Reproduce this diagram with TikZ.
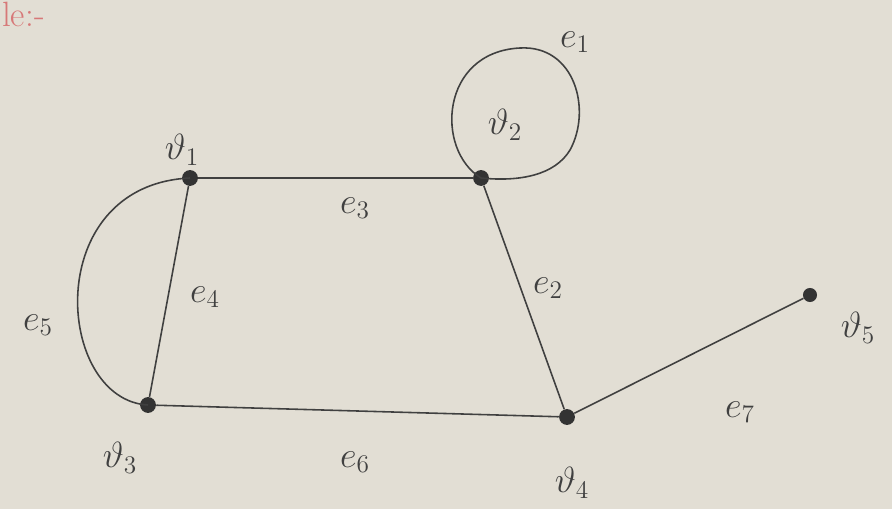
\documentclass[tikz,border=0pt]{standalone}
\usepackage{amsmath}
\begin{document}
\begin{tikzpicture}[x=0.02cm,y=-0.02cm,
  vertex/.style={circle,fill=black!80,inner sep=0pt,minimum size=9pt},
  edge/.style={draw=black!75,line width=0.9pt},
  lbl/.style={font=\fontsize{22}{24}\selectfont,text=black!75}]
\fill[fill={rgb,255:red,226;green,222;blue,212}] (0,0) rectangle (892,509);
\useasboundingbox (0,0) rectangle (892,509);
\node[anchor=north west,text={rgb,255:red,215;green,120;blue,120},font=\fontsize{20}{22}\selectfont] (title) at (-4,-4) {le:-};
\node[vertex] (v1) at (190,178) {};
\node[vertex] (v2) at (481,178) {};
\node[vertex] (v3) at (148,405) {};
\node[vertex] (v4) at (567,417) {};
\node[vertex,minimum size=8pt] (v5) at (810,295) {};
\draw[edge] (v1) -- (v2);
\draw[edge] (v1) -- (v3);
\draw[edge] (v3) -- (v4);
\draw[edge] (v2) -- (v4);
\draw[edge] (v4) -- (v5);
\draw[edge] (v1.center) .. controls (40,185) and (55,400) .. (v3.center);
\draw[edge] (v2.center) .. controls (435,150) and (440,52) .. (520,48)
  .. controls (575,45) and (592,110) .. (570,150)
  .. controls (555,175) and (520,182) .. (v2.center);
\node[lbl] (l1) at (182,150) {$\vartheta_1$};
\node[lbl] (l2) at (505,125) {$\vartheta_2$};
\node[lbl] (l3) at (120,458) {$\vartheta_3$};
\node[lbl] (l4) at (572,483) {$\vartheta_4$};
\node[lbl] (l5) at (858,328) {$\vartheta_5$};
\node[lbl] (e1) at (575,42) {$e_1$};
\node[lbl] (e2) at (548,288) {$e_2$};
\node[lbl] (e3) at (355,208) {$e_3$};
\node[lbl] (e4) at (205,297) {$e_4$};
\node[lbl] (e5) at (38,325) {$e_5$};
\node[lbl] (e6) at (355,462) {$e_6$};
\node[lbl] (e7) at (740,412) {$e_7$};
\end{tikzpicture}
\end{document}
